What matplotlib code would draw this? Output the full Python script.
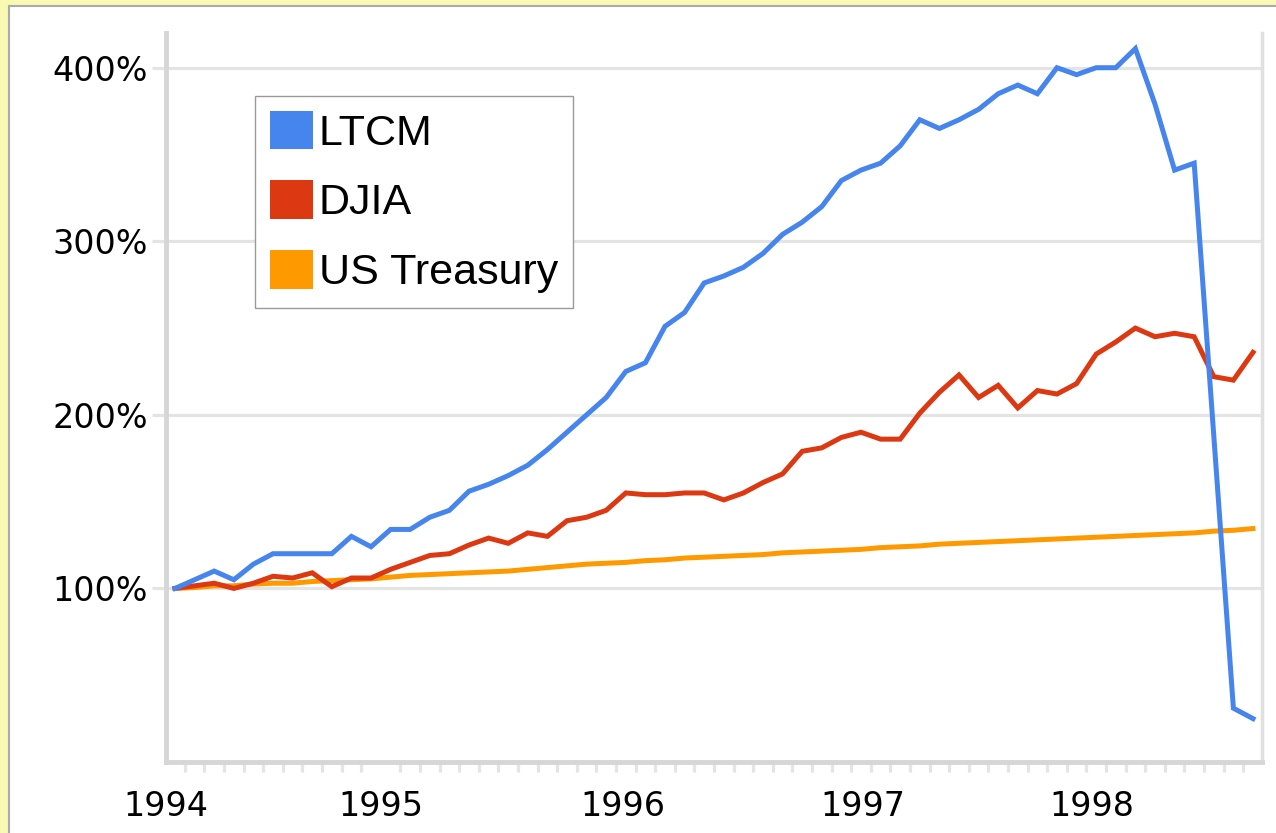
import numpy as np
import matplotlib
matplotlib.use("Agg")
import matplotlib.pyplot as plt
from matplotlib.patches import Rectangle, Patch
from matplotlib.ticker import FixedLocator

# monthly index, 1994 -> late 1998
ltcm = [100, 105, 110, 105, 114, 120, 120, 120, 120, 130, 124, 134, 134, 141, 145, 156,
        160, 165, 171, 180, 190, 200, 210, 225, 230, 251, 259, 276, 280, 285, 293, 304,
        311, 320, 335, 341, 345, 355, 370, 365, 370, 376, 385, 390, 385, 400, 396, 400,
        400, 411, 379, 341, 345, 188, 31, 25]
djia = [100, 101.5, 103, 100, 103, 107, 106, 109, 101, 106, 106, 111, 115, 119, 120, 125,
        129, 126, 132, 130, 139, 141, 145, 155, 154, 154, 155, 155, 151, 155, 161, 166,
        179, 181, 187, 190, 186, 186, 201, 213, 223, 210, 217, 204, 214, 212, 218, 235,
        242, 250, 245, 247, 245, 222, 220, 236]
treasury = [100, 100.5, 101.5, 101.5, 102.5, 103, 103, 104, 104.5, 105, 105.5, 106.5, 107.5, 108, 108.5, 109,
            109.5, 110, 111, 112, 113, 114, 114.5, 115, 116, 116.5, 117.5, 118, 118.5, 119, 119.5, 120.5,
            121, 121.5, 122, 122.5, 123.5, 124, 124.5, 125.5, 126, 126.5, 127, 127.5, 128, 128.5, 129, 129.5,
            130, 130.5, 131, 131.5, 132, 133, 133.5, 134.5]
years = ['1994', '1995', '1996', '1997', '1998']
year_pos = [-0.46, 10.5, 22.85, 35.1, 46.8]
yticks = [100, 200, 300, 400]

names = ['LTCM', 'DJIA', 'US Treasury']
colors = ['#4684EE', '#DC3912', '#FF9900']

W, H = 1276, 833
fig = plt.figure(figsize=(W / 100, H / 100), dpi=100)
fig.patch.set_facecolor('#F9F9B4')
# white panel inside the yellow border
panel = Rectangle((9 / W, -0.01), 1.0, 1 - 6 / H + 0.01, transform=fig.transFigure,
                  facecolor='white', edgecolor='#AAAAAA', linewidth=1.5, zorder=-10)
fig.patches.append(panel)

ax = fig.add_axes([166 / W, 1 - 762 / H, (1262 - 166) / W, (762 - 33) / H])
ax.set_facecolor('white')
x = np.arange(len(ltcm))
ax.plot(x, treasury, color=colors[2], lw=3.6, solid_joinstyle='miter', zorder=3)
ax.plot(x, djia, color=colors[1], lw=3.6, solid_joinstyle='miter', zorder=4)
ax.plot(x, ltcm, color=colors[0], lw=3.6, solid_joinstyle='miter', zorder=5)

ax.set_xlim(-0.46, 55.46)
ax.set_ylim(0, 420)

ax.set_yticks(yticks)
ax.set_yticklabels(['%d%%' % v for v in yticks])
ax.yaxis.grid(True, color='#E4E4E4', lw=2.3)
ax.tick_params(axis='y', length=10, width=2.3, color='#E4E4E4', pad=3, labelsize=24)
ax.set_axisbelow(True)

ax.xaxis.set_major_locator(FixedLocator(year_pos))
ax.set_xticklabels(years)
ax.xaxis.set_minor_locator(FixedLocator(np.arange(0.5, 55.4, 1)))
ax.tick_params(axis='x', which='major', length=0, pad=20, labelsize=24)
ax.tick_params(axis='x', which='minor', length=7.5, width=2.3, color='#E4E4E4', direction='out')

for side in ['left', 'bottom']:
    ax.spines[side].set_color('#D6D6D6')
    ax.spines[side].set_linewidth(3.5)
ax.spines['right'].set_color('#E0E0E0')
ax.spines['right'].set_linewidth(2.5)
ax.spines['top'].set_visible(False)

handles = [Patch(facecolor=c, edgecolor='none') for c in colors]
leg = ax.legend(handles, names, loc='upper left',
                bbox_to_anchor=(255 / W, 1 - 96 / H), bbox_transform=fig.transFigure,
                prop={'family': 'Liberation Sans', 'size': 31},
                handlelength=1.0, handleheight=1.0, handletextpad=0.14,
                labelspacing=0.62, borderpad=0.34, borderaxespad=0,
                fancybox=False, framealpha=1, edgecolor='#999999')
leg.get_frame().set_linewidth(1.0)

fig.savefig('out.png', dpi=100, facecolor=fig.get_facecolor())
